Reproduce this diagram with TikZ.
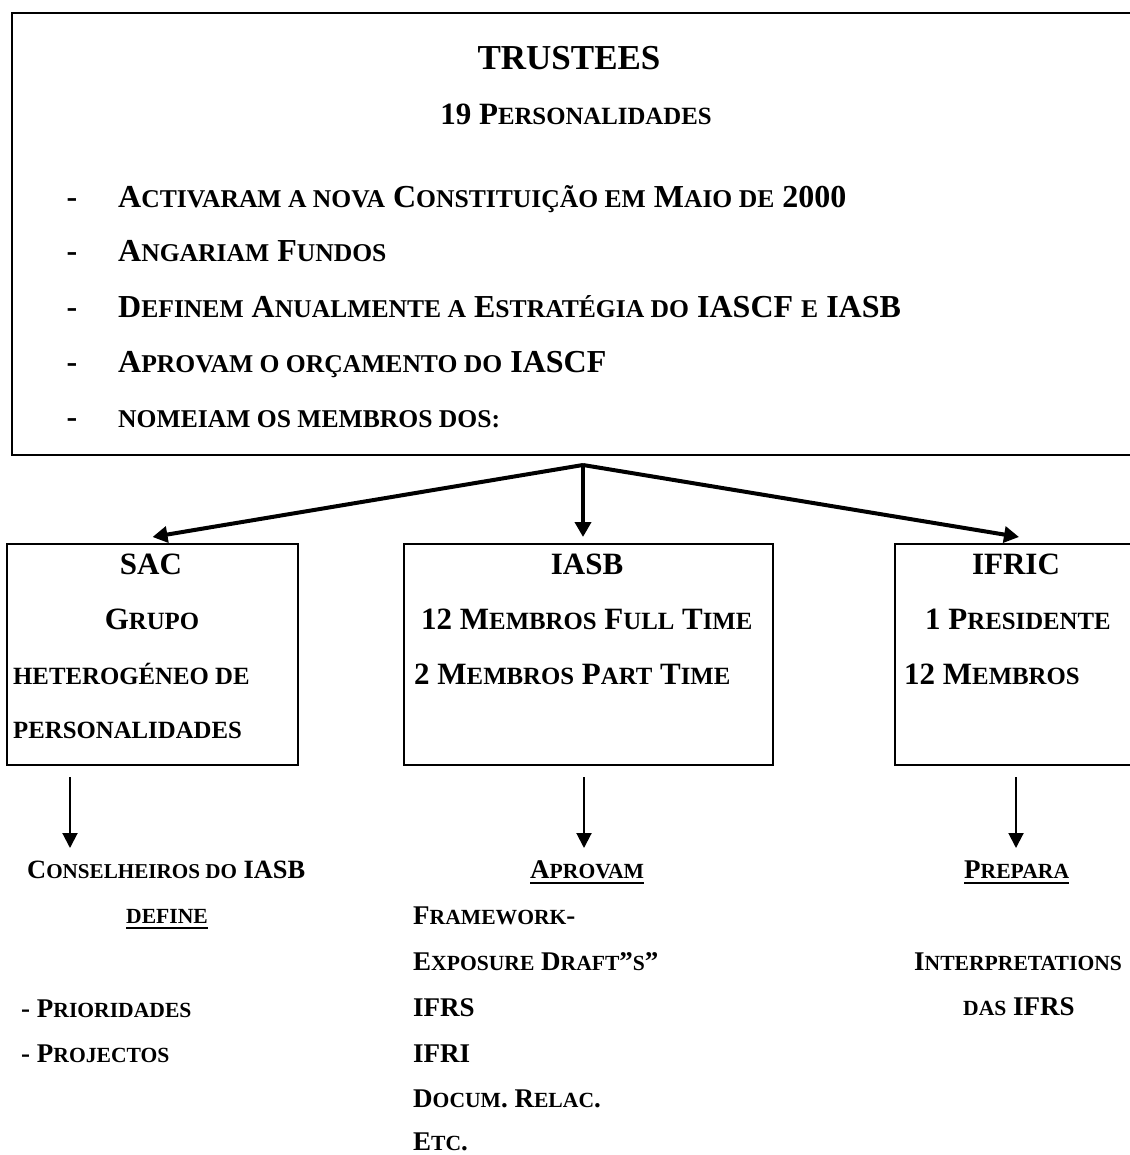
\documentclass[tikz,border=0pt]{standalone}
\usepackage{fontspec}
\setmainfont{Liberation Serif}
\usetikzlibrary{arrows.meta}
\makeatletter
\newcommand\sm[1]{{\edef\smsz{\fpeval{0.8*\f@size}}\fontsize{\smsz}{\smsz}\selectfont #1}}
\makeatother
\begin{document}
\begin{tikzpicture}[x=1pt,y=-1pt,
  box/.style={draw, line width=2pt, inner sep=0pt, anchor=north west},
  t/.style={inner sep=0pt, font=\bfseries\fontsize{31}{31}\selectfont},
  tt/.style={inner sep=0pt, font=\bfseries\fontsize{32}{32}\selectfont},
  lt/.style={inner sep=0pt, font=\bfseries\fontsize{27}{27}\selectfont},
  big/.style={line width=4pt, -{Triangle[width=16pt,length=15pt]}},
  small/.style={line width=2pt, -{Triangle[width=15pt,length=15pt]}},
  ul/.style={line width=2pt}]
\useasboundingbox (0,0) rectangle (1129,1155);
% boxes
\node[box, minimum width=1140pt, minimum height=442pt] (trustees) at (11,12) {};
\node[box, minimum width=291pt, minimum height=221pt] (sac) at (6,543) {};
\node[box, minimum width=369pt, minimum height=221pt] (iasb) at (403,543) {};
\node[box, minimum width=260pt, minimum height=221pt] (ifric) at (894,543) {};
% top texts
\node[t, font=\bfseries\fontsize{35}{35}\selectfont, anchor=base] (ttl) at (569,70) {TRUSTEES};
\node[t, anchor=base] (n19) at (576,125) {19 P\sm{ERSONALIDADES}};
\node[tt, anchor=base] (d1) at (72,208) {-};
\node[tt, anchor=base] (d2) at (72,262) {-};
\node[tt, anchor=base] (d3) at (72,317) {-};
\node[tt, anchor=base] (d4) at (72,372) {-};
\node[tt, anchor=base] (d5) at (72,427) {-};
\node[tt, anchor=base west] (l1) at (118,208) {A\sm{CTIVARAM A NOVA} C\sm{ONSTITUIÇÃO EM} M\sm{AIO DE} 2000};
\node[tt, anchor=base west] (l2) at (118,262) {A\sm{NGARIAM} F\sm{UNDOS}};
\node[tt, anchor=base west] (l3) at (118,317) {D\sm{EFINEM} A\sm{NUALMENTE A} E\sm{STRATÉGIA DO} IASCF \sm{E} IASB};
\node[tt, anchor=base west] (l4) at (118,372) {A\sm{PROVAM O ORÇAMENTO DO} IASCF};
\node[tt, anchor=base west] (l5) at (118,427) {\sm{NOMEIAM OS MEMBROS DOS:}};
% box texts
\node[t, anchor=base] (sacT) at (151,574) {SAC};
\node[t, anchor=base] (sac1) at (152,629) {G\sm{RUPO}};
\node[t, anchor=base west] (sac2) at (13,684) {\sm{HETEROGÉNEO DE}};
\node[t, anchor=base west] (sac3) at (13,738) {\sm{PERSONALIDADES}};
\node[t, anchor=base] (iasbT) at (587,574) {IASB};
\node[t, anchor=base west] (iasb1) at (421,629) {12 M\sm{EMBROS} F\sm{ULL} T\sm{IME}};
\node[t, anchor=base west] (iasb2) at (414,684) {2 M\sm{EMBROS} P\sm{ART} T\sm{IME}};
\node[t, anchor=base] (ifricT) at (1016,574) {IFRIC};
\node[t, anchor=base west] (ifric1) at (925,629) {1 P\sm{RESIDENTE}};
\node[t, anchor=base west] (ifric2) at (904,684) {12 M\sm{EMBROS}};
% arrows from trustees
\coordinate (split) at (583,465);
\draw[big] (split) -- ([xshift=0pt,yshift=6pt]sac.north);
\draw[big] (split) -- ([yshift=6pt]iasb.north -| split);
\draw[big] (split) -- ([xshift=-6pt,yshift=6pt]ifric.north);
% lower arrows
\coordinate (a1) at (70,777); \coordinate (b1) at (70,848);
\coordinate (a2) at (584,777); \coordinate (b2) at (584,848);
\coordinate (a3) at (1016,777); \coordinate (b3) at (1016,848);
\draw[small] (a1) -- (b1);
\draw[small] (a2) -- (b2);
\draw[small] (a3) -- (b3);
% lower texts
\node[lt, font=\bfseries\fontsize{26.4}{26.4}\selectfont, anchor=base west] (cons) at (27,878) {C\sm{ONSELHEIROS DO} IASB};
\node[lt, anchor=base west] (def) at (126,923) {\sm{DEFINE}};
\draw[ul] ([yshift=-5pt]def.base west) -- ([yshift=-5pt]def.base east);
\node[lt, anchor=base west] (pri) at (21,1017) {- P\sm{RIORIDADES}};
\node[lt, anchor=base west] (pro) at (21,1062) {- P\sm{ROJECTOS}};
\node[lt, anchor=base west] (apr) at (530,878) {A\sm{PROVAM}};
\draw[ul] ([yshift=-5pt]apr.base west) -- ([yshift=-5pt]apr.base east);
\node[lt, anchor=base west] (fw) at (413,924) {F\sm{RAMEWORK}-};
\node[lt, anchor=base west] (ed) at (413,970) {E\sm{XPOSURE} D\sm{RAFT}”\sm{S}”};
\node[lt, anchor=base west] (ifrs) at (413,1016) {IFRS};
\node[lt, anchor=base west] (ifri) at (413,1062) {IFRI};
\node[lt, anchor=base west] (doc) at (413,1107) {D\sm{OCUM}. R\sm{ELAC}.};
\node[lt, anchor=base west] (etc) at (413,1150) {E\sm{TC}.};
\node[lt, anchor=base west] (prep) at (964,878) {P\sm{REPARA}};
\draw[ul] ([yshift=-5pt]prep.base west) -- ([yshift=-5pt]prep.base east);
\node[lt, anchor=base west] (interp) at (914,970) {I\sm{NTERPRETATIONS}};
\node[lt, anchor=base west] (das) at (963,1015) {\sm{DAS} IFRS};
\end{tikzpicture}
\end{document}
